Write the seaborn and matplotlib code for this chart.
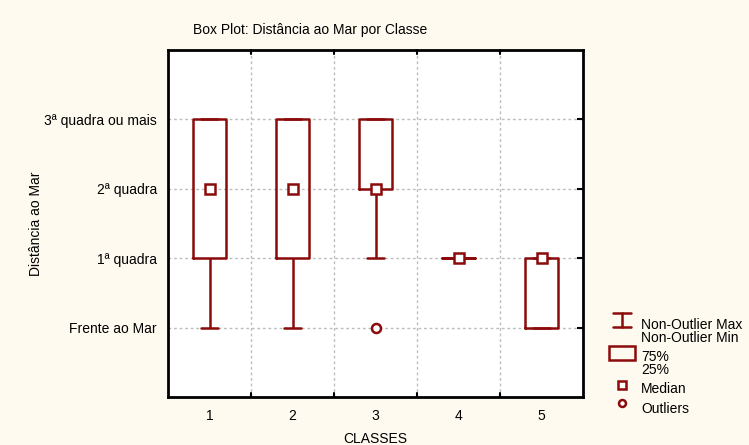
"""
Box plot - Distancia ao Mar por Classe (Statistica style)
"""

import numpy as np
import pandas as pd
import matplotlib
matplotlib.use('Agg')
import matplotlib.pyplot as plt
import seaborn as sns
from matplotlib.patches import Rectangle

sns.set_style("white")
plt.rcParams['font.family'] = ['Liberation Sans', 'DejaVu Sans']
plt.rcParams['text.color'] = 'black'
plt.rcParams['axes.labelcolor'] = 'black'
plt.rcParams['xtick.color'] = 'black'
plt.rcParams['ytick.color'] = 'black'

# levels of the ordinal variable (1 = Frente ao Mar ... 4 = 3a quadra ou mais)
levels = [1, 2, 3, 4]
level_labels = ['Frente ao Mar', '1ª quadra', '2ª quadra', '3ª quadra ou mais']
classes = ['1', '2', '3', '4', '5']

# number of observations at each level, per class
counts_c1 = [3, 5, 6, 10]
counts_c2 = [2, 6, 7, 9]
counts_c3 = [1, 2, 10, 9]
counts_c4 = [0, 5, 0, 0]
counts_c5 = [5, 8, 0, 0]

COLOR = '#8B0A0A'
BG = '#FEFAF0'
FS = 10

rows = []
for cls, counts in zip(classes, [counts_c1, counts_c2, counts_c3, counts_c4, counts_c5]):
    vals = np.repeat(levels, counts)
    rows.append(pd.DataFrame({'classe': cls, 'dist': vals}))
df = pd.concat(rows, ignore_index=True)

fig = plt.figure(figsize=(7.49, 4.45), dpi=100, facecolor=BG)
ax = fig.add_axes([168 / 749, 48 / 445, 415 / 749, 347 / 445])
ax.set_facecolor('white')

sns.boxplot(data=df, x='classe', y='dist', order=classes, ax=ax, width=0.4,
            fill=False, color=COLOR, linewidth=1.8, whis=1.5,
            medianprops={'visible': False},
            flierprops={'marker': 'o', 'markersize': 6.5, 'markerfacecolor': 'white',
                        'markeredgecolor': COLOR, 'markeredgewidth': 1.8})

sns.pointplot(data=df, x='classe', y='dist', order=classes, ax=ax,
              estimator='median', errorbar=None, linestyle='none', marker='s',
              color=COLOR, markersize=7, markerfacecolor='white',
              markeredgecolor=COLOR, markeredgewidth=1.8)

ax.set_xlim(-0.5, 4.5)
ax.set_ylim(0, 5)
ax.set_yticks(levels)
ax.set_yticklabels(level_labels, fontsize=FS)
ax.set_xticks(range(len(classes)))
ax.set_xticklabels(classes, fontsize=FS)
ax.tick_params(axis='x', length=0, pad=9)
ax.tick_params(axis='y', length=4, width=1.5, direction='in', right=True, pad=8)

# grid lines between classes and at the levels
for xb in np.arange(0.5, len(classes) - 1, 1.0):
    ax.axvline(xb, color='#bdbdbd', linestyle=(0, (2, 2)), linewidth=1, zorder=0)
    ax.plot([xb, xb], [0, 0.06], color='black', lw=1.5, clip_on=False)
    ax.plot([xb, xb], [5 - 0.06, 5], color='black', lw=1.5, clip_on=False)
for yl in levels:
    ax.axhline(yl, color='#bdbdbd', linestyle=(0, (2, 2)), linewidth=1, zorder=0)

for s in ax.spines.values():
    s.set_visible(True)
    s.set_color('black')
    s.set_linewidth(2)

ax.set_xlabel('CLASSES', fontsize=FS, labelpad=6)
ax.set_ylabel('Distância ao Mar', fontsize=FS, labelpad=1)
fig.text(193 / 749, 1 - 30 / 445, 'Box Plot: Distância ao Mar por Classe',
         fontsize=FS, ha='left', va='center')

# legend drawn in pixel coordinates on the right
leg = fig.add_axes([0, 0, 1, 1], facecolor='none')
leg.set_xlim(0, 749)
leg.set_ylim(445, 0)
leg.axis('off')
cx = 622
leg.plot([cx - 9, cx + 9], [313, 313], color=COLOR, lw=1.8)
leg.plot([cx, cx], [313, 327], color=COLOR, lw=1.8)
leg.plot([cx - 9, cx + 9], [327, 327], color=COLOR, lw=1.8)
leg.add_patch(Rectangle((cx - 13, 346), 26, 14, fill=False, edgecolor=COLOR, lw=1.8))
leg.plot([cx], [385], marker='s', markersize=6, markerfacecolor='white',
         markeredgecolor=COLOR, markeredgewidth=1.8)
leg.plot([cx], [403], marker='o', markersize=5, markerfacecolor='white',
         markeredgecolor=COLOR, markeredgewidth=1.8)
tx = 641
for ty, txt in [(325, 'Non-Outlier Max'), (338, 'Non-Outlier Min'),
                (357, '75%'), (370, '25%'), (389, 'Median'), (409, 'Outliers')]:
    leg.text(tx, ty, txt, fontsize=FS, ha='left', va='center')

fig.savefig('out.png', dpi=100, facecolor=BG)
